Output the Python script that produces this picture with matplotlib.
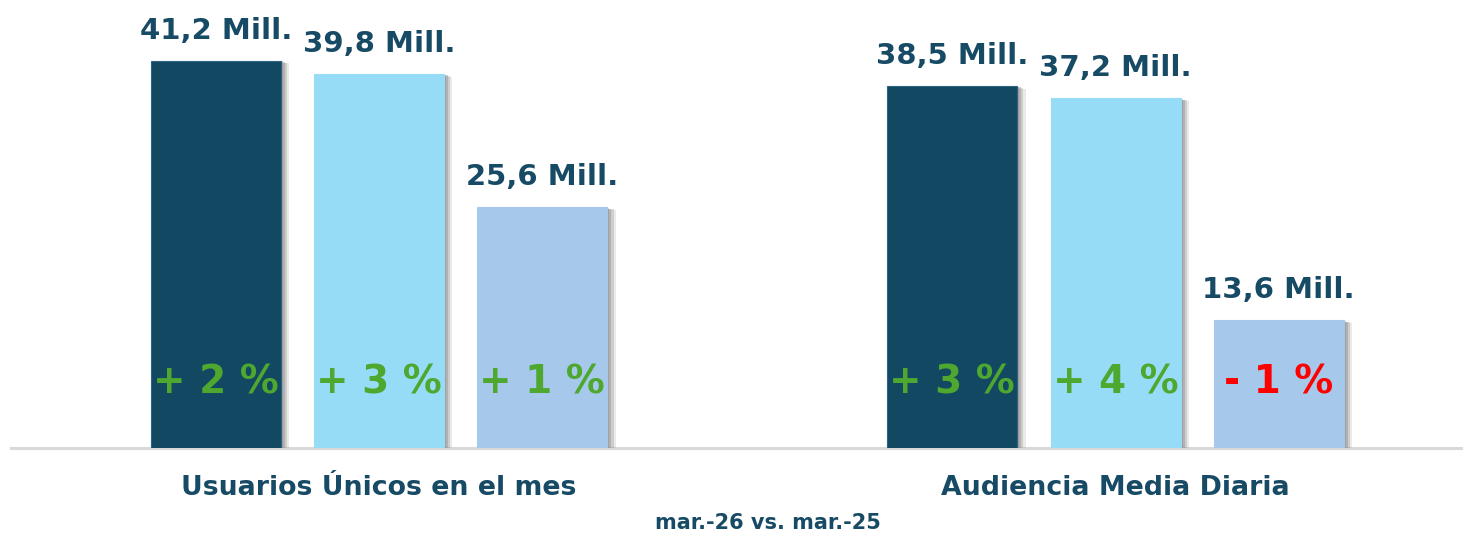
import matplotlib
matplotlib.use("Agg")
import matplotlib.pyplot as plt
import matplotlib.patheffects as pe
import numpy as np

categories = ["Usuarios Únicos en el mes", "Audiencia Media Diaria"]
series_a = [41.2, 38.5]
series_b = [39.8, 37.2]
series_c = [25.6, 13.6]
value_labels = [["41,2 Mill.", "39,8 Mill.", "25,6 Mill."],
                ["38,5 Mill.", "37,2 Mill.", "13,6 Mill."]]
change_labels = [["+ 2 %", "+ 3 %", "+ 1 %"],
                 ["+ 3 %", "+ 4 %", "- 1 %"]]
change_values = [[2, 3, 1], [3, 4, -1]]
subtitle = "mar.-26 vs. mar.-25"

W, H = 1463, 535
dpi = 100
fig = plt.figure(figsize=(W / dpi, H / dpi), dpi=dpi)
plt.rcParams['font.family'] = ['DejaVu Sans']

base_px = 448
ax = fig.add_axes([11 / W, (H - base_px) / H, (W - 11) / W, base_px / H])
ax.set_xlim(-0.4997, 1.4718)
ax.set_ylim(0, base_px / 9.4)
ax.axis('off')

colors = ["#124861", "#97dcf7", "#a6c9eb"]
dark_text = "#174a64"
green = "#4ea72e"
red = "#ff0000"

spacing = 0.2217
width = 0.1765
x = np.arange(len(categories))
series = [series_a, series_b, series_c]

shadow = [pe.SimplePatchShadow(offset=(6, -2), shadow_rgbFace="#9a9a9a", alpha=0.2),
          pe.SimplePatchShadow(offset=(4.5, -1.5), shadow_rgbFace="#8a8a8a", alpha=0.3),
          pe.SimplePatchShadow(offset=(3, -1), shadow_rgbFace="#7f7f7f", alpha=0.35),
          pe.SimplePatchShadow(offset=(1.5, -0.5), shadow_rgbFace="#7f7f7f", alpha=0.35),
          pe.Normal()]

for i, vals in enumerate(series):
    xs = x + (i - 1) * spacing
    bars = ax.bar(xs, vals, width=width, color=colors[i],
                  edgecolor="#2b6583" if i == 0 else colors[i], linewidth=0.8, zorder=3)
    for b in bars:
        b.set_path_effects(shadow)
    for g, (xx, v) in enumerate(zip(xs, vals)):
        ax.annotate(value_labels[g][i], (xx, v), xytext=(0, 21.5), textcoords="offset points",
                    ha="center", va="center", fontsize=21, fontweight="bold",
                    color=dark_text, zorder=5)
        cv = change_values[g][i]
        ax.text(xx, 7.0, change_labels[g][i], ha="center", va="center",
                fontsize=28, fontweight="bold", color=green if cv >= 0 else red, zorder=5)

# baseline
ax.axhline(0, color="#d9d9d9", linewidth=2.2, zorder=2, clip_on=False)

for g, c in enumerate(categories):
    ax.annotate(c, (x[g], 0), xytext=(0, -28.5), textcoords="offset points",
                ha="center", va="center", fontsize=19.3, fontweight="bold",
                color=dark_text, annotation_clip=False)

fig.text(768 / W, 1 - 523 / H, subtitle, ha="center", va="center", fontsize=15,
         fontweight="bold", color=dark_text)

fig.savefig("out.png", dpi=dpi)
